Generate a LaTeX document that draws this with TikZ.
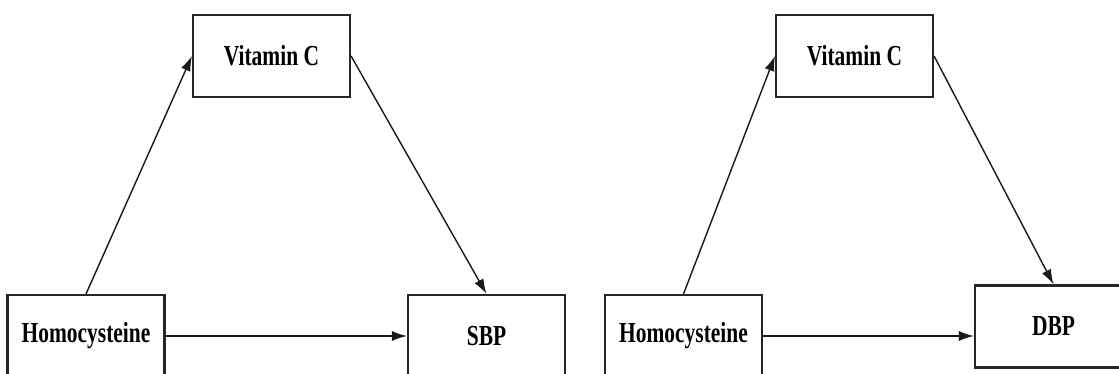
\documentclass[tikz,border=0pt]{standalone}
\usepackage{fontspec}
\setmainfont{Liberation Serif}
\usepackage{graphicx}
\usetikzlibrary{arrows.meta}
\newcommand{\squeezed}[1]{\scalebox{0.74}[1]{#1}}

\begin{document}
\begin{tikzpicture}[>={Latex[length=3mm, width=2mm]},
  font=\fontsize{16.5}{19}\selectfont\bfseries,
  box/.style={draw=black!85, line width=1.2pt, minimum width=3.14cm, minimum height=1.64cm, inner sep=0pt},
  link/.style={->, line width=0.8pt, black!90}]
  \useasboundingbox (0,0) rectangle (22.38,7.48);

  % SBP
  \node[box] (vc1) at (5.43,6.36) {\squeezed{Vitamin C}};
  \node[box] (hc1) at (1.72,0.76) {\squeezed{Homocysteine}};
  \node[box] (sbp) at (9.73,0.76) {\squeezed{SBP}};
  \draw[link] (hc1.north) -- (vc1.west);
  \draw[link] (vc1.east) -- (sbp.north);
  \draw[link] (hc1) -- (sbp);

  % DBP
  \node[box] (vc2) at (17.09,6.36) {\squeezed{Vitamin C}};
  \node[box] (hc2) at (13.67,0.76) {\squeezed{Homocysteine}};
  \node[box] (dbp) at (21.07,0.95) {\squeezed{DBP}};
  \draw[link] (hc2.north) -- (vc2.west);
  \draw[link] (vc2.east) -- (dbp.north);
  \draw[link] (hc2.east) -- (hc2.east -| dbp.west);
\end{tikzpicture}
\end{document}
